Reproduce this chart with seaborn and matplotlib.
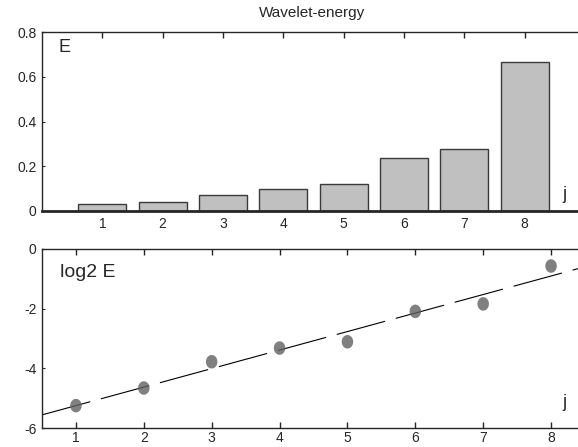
import numpy as np
import matplotlib
matplotlib.use("Agg")
import matplotlib.pyplot as plt
from matplotlib.path import Path
import seaborn as sns

# data
j = [1, 2, 3, 4, 5, 6, 7, 8]
energy = [0.030, 0.040, 0.070, 0.100, 0.119, 0.238, 0.277, 0.664]
log2_energy = [-5.25, -4.66, -3.78, -3.32, -3.11, -2.09, -1.84, -0.57]

sns.set_style('white')
plt.rcParams['font.family'] = ['Liberation Sans', 'DejaVu Sans']
plt.rcParams['axes.unicode_minus'] = False

fig = plt.figure(figsize=(5.78, 4.47), dpi=100, facecolor='w')
right = 585 / 578
ax1 = fig.add_axes([42 / 578, 1 - 211 / 447, right - 42 / 578, 179 / 447])
ax2 = fig.add_axes([42 / 578, 1 - 428 / 447, right - 42 / 578, 179 / 447])

# top: bar chart of energy
sns.barplot(x=j, y=energy, native_scale=True, width=0.8, color='#c0c0c0',
            edgecolor='#3a3a3a', linewidth=1, saturation=1, ax=ax1)
ax1.set_xlim(0, 9)
ax1.set_ylim(0, 0.8)
ax1.set_xticks(j)
ax1.set_yticks([0, 0.2, 0.4, 0.6, 0.8])
ax1.set_yticklabels(['0', '0.2', '0.4', '0.6', '0.8'])
ax1.tick_params(axis='x', direction='in', top=True, bottom=False, labelbottom=True,
                length=4, width=1, pad=4, labelsize=10)
ax1.tick_params(axis='y', direction='in', left=True, length=2, width=0.8, pad=4, labelsize=10)
ax1.spines['right'].set_visible(False)
ax1.spines['bottom'].set_linewidth(2)
for s in ['left', 'top']:
    ax1.spines[s].set_linewidth(1)
ax1.set_xlabel('')
ax1.set_ylabel('')
ax1.text(0.031, 0.915, 'E', transform=ax1.transAxes, fontsize=13, va='center')
ax1.text(0.958, 0.09, 'j', transform=ax1.transAxes, fontsize=13, va='center')
fig.text(312 / 578, 1 - 13 / 447, 'Wavelet-energy', ha='center', va='center', fontsize=11)

# slightly tall dots, like the reference
t = np.linspace(0, 2 * np.pi, 40)
oval = Path(np.column_stack([0.85 * np.cos(t), np.sin(t)]), closed=True)

# bottom: log2 energy with fitted line
ax2.set_xlim(0.5, 8.5)
ax2.set_ylim(-6, 0)
sns.regplot(x=j, y=log2_energy, ci=None, truncate=False, ax=ax2, marker=oval,
            scatter_kws=dict(s=95, color='#606060', edgecolors='none', zorder=3),
            line_kws=dict(color='black', lw=0.8, linestyle=(0, (45, 10)), zorder=2))
ax2.set_xlim(0.5, 8.5)
ax2.set_ylim(-6, 0)
ax2.set_xticks(j)
ax2.set_yticks([-6, -4, -2, 0])
ax2.tick_params(axis='x', direction='in', top=True, bottom=True, length=4, width=1,
                pad=2, labelsize=10)
ax2.tick_params(axis='y', direction='in', left=True, length=2, width=0.8, pad=4, labelsize=10)
ax2.spines['right'].set_visible(False)
for s in ['left', 'top', 'bottom']:
    ax2.spines[s].set_linewidth(1)
ax2.set_xlabel('')
ax2.set_ylabel('')
ax2.text(0.033, 0.866, 'log2 E', transform=ax2.transAxes, fontsize=14, va='center')
ax2.text(0.958, 0.14, 'j', transform=ax2.transAxes, fontsize=13, va='center')

fig.savefig('out.png', dpi=100, facecolor='w')
